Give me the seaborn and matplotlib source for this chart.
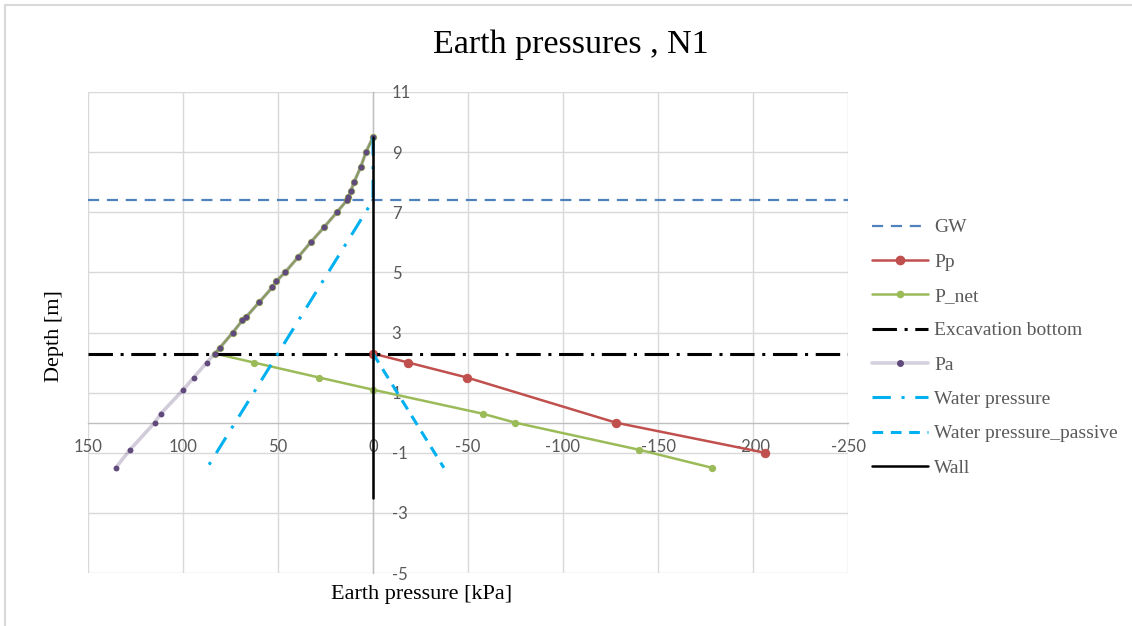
import matplotlib

matplotlib.use("Agg")

import matplotlib.pyplot as plt  # noqa: E402
import pandas as pd  # noqa: E402
import seaborn as sns  # noqa: E402
from matplotlib.lines import Line2D  # noqa: E402
from matplotlib.patches import Rectangle  # noqa: E402

# --- data (depth in m, pressure in kPa) ---
gw_level = 7.4
excavation_level = 2.3

pa_depth = [9.5, 9.0, 8.5, 8.0, 7.7, 7.5, 7.4, 7.0, 6.5, 6.0, 5.5, 5.0, 4.7, 4.5,
            4.0, 3.5, 3.4, 3.0, 2.5, 2.3, 2.0, 1.5, 1.1, 0.3, 0.0, -0.9, -1.5]
pa_value = [0.0, 3.7, 6.5, 10.0, 11.7, 13.0, 13.7, 19.0, 25.8, 32.8, 39.5, 46.3, 51.0, 53.0,
            60.0, 67.0, 68.8, 73.8, 80.5, 83.3, 87.5, 94.4, 99.8, 111.7, 114.9, 127.9, 135.4]

pnet_depth = pa_depth
pnet_value = [0.0, 3.7, 6.5, 10.0, 11.7, 13.0, 13.7, 19.0, 25.8, 32.8, 39.5, 46.3, 51.0, 53.0,
              60.0, 67.0, 68.8, 73.8, 80.5, 83.3, 62.6, 28.2, 0.2, -57.7, -74.9, -140.0, -178.4]

pp_depth = [2.3, 2.0, 1.5, 0.0, -1.0]
pp_value = [0.0, -18.6, -49.6, -127.9, -206.3]

water_depth = [9.5, 7.4, -1.5]
water_value = [0.0, 0.0, 87.3]

water_p_depth = [2.3, -1.5]
water_p_value = [0.0, -37.3]

wall_depth = [9.5, -2.5]
wall_value = [0.0, 0.0]

x_ticks = [150, 100, 50, 0, -50, -100, -150, -200, -250]
y_ticks = [11, 9, 7, 5, 3, 1, -1, -3, -5]

# --- colours ---
c_gw = "#4F81BD"
c_pp = "#C0504D"
c_net = "#9BBB59"
c_pa = "#604A7B"
c_water = "#00B0F0"
grey_txt = "#595959"

sns.set_style("white")
serif = ["Liberation Serif", "DejaVu Serif"]
plt.rcParams["font.family"] = ["Lato", "DejaVu Sans"]
plt.rcParams["axes.unicode_minus"] = False

W, H = 1132, 626
fig = plt.figure(figsize=(W / 100, H / 100), dpi=100)
ax = fig.add_axes([88 / W, 1 - 573 / H, (848 - 88) / W, (573 - 92) / H])


def frame(depth, value):
    return pd.DataFrame({"p": value, "z": depth})


ls_exc = (0, (8, 2.5, 1, 2.5))
ls_water = (0, (6, 3.5, 1, 3.5))
ls_water_p = (0, (3.5, 2.5))
ls_gw = (0, (5, 3.5))

ax.axhline(gw_level, color=c_gw, lw=1.6, ls=ls_gw, zorder=3)
sns.lineplot(data=frame(pp_depth, pp_value), x="p", y="z", sort=False, estimator=None,
             color=c_pp, lw=1.8, marker="o", ms=6, mec=c_pp, ax=ax, zorder=4)
sns.lineplot(data=frame(pnet_depth, pnet_value), x="p", y="z", sort=False, estimator=None,
             color=c_net, lw=1.8, marker="o", ms=4.5, mec=c_net, ax=ax, zorder=5)
ax.axhline(excavation_level, color="black", lw=2.2, ls=ls_exc, zorder=6)
sns.lineplot(data=frame(pa_depth, pa_value), x="p", y="z", sort=False, estimator=None,
             color=c_pa, alpha=0.28, lw=2.6, ax=ax, zorder=7)
sns.scatterplot(data=frame(pa_depth, pa_value), x="p", y="z", color=c_pa, s=18,
                edgecolor=c_pa, linewidth=0, ax=ax, zorder=8)
sns.lineplot(data=frame(water_depth, water_value), x="p", y="z", sort=False, estimator=None,
             color=c_water, lw=2.2, ls=ls_water, ax=ax, zorder=9)
sns.lineplot(data=frame(water_p_depth, water_p_value), x="p", y="z", sort=False,
             estimator=None, color=c_water, lw=2.2, ls=ls_water_p, ax=ax, zorder=9)
sns.lineplot(data=frame(wall_depth, wall_value), x="p", y="z", sort=False, estimator=None,
             color="black", lw=1.8, ax=ax, zorder=10)

# axes: reversed x, axis lines crossing at the origin
ax.set_xlim(150, -250)
ax.set_ylim(-5, 11)
ax.set_xticks(x_ticks)
ax.set_yticks(y_ticks)
ax.grid(True, color="#d9d9d9", lw=1.0, zorder=0)
ax.set_axisbelow(True)
ax.set_xlabel("")
ax.set_ylabel("")
for side in ["top", "left"]:
    ax.spines[side].set_visible(False)
ax.spines["bottom"].set_position(("data", 0))
ax.spines["right"].set_position(("data", 0))
for side in ["bottom", "right"]:
    ax.spines[side].set_color("#bfbfbf")
    ax.spines[side].set_linewidth(1.0)
ax.yaxis.tick_right()
ax.tick_params(axis="x", length=0, pad=12, labelsize=12, labelcolor=grey_txt)
ax.tick_params(axis="y", length=0, pad=13.5, labelsize=12, labelcolor=grey_txt)
for lbl in ax.get_yticklabels():
    lbl.set_horizontalalignment("left")

fig.text(571 / W, 1 - 45 / H, "Earth pressures , N1", family=serif, fontsize=24.5,
         ha="center", va="center", color="black")
fig.text(422 / W, 1 - 594 / H, "Earth pressure [kPa]", family=serif, fontsize=16,
         ha="center", va="center", color="black")
fig.text(55 / W, 1 - 336 / H, "Depth [m]", family=serif, fontsize=16, rotation=90,
         ha="center", va="center", color="black")

handles = [
    Line2D([], [], color=c_gw, lw=1.6, ls=ls_gw),
    Line2D([], [], color=c_pp, lw=1.8, marker="o", ms=6),
    Line2D([], [], color=c_net, lw=1.8, marker="o", ms=4.5),
    Line2D([], [], color="black", lw=2.2, ls=ls_exc),
    Line2D([], [], color="#D6D0DE", lw=2.6, marker="o", ms=4, mfc=c_pa, mec=c_pa),
    Line2D([], [], color=c_water, lw=2.2, ls=ls_water),
    Line2D([], [], color=c_water, lw=2.2, ls=ls_water_p),
    Line2D([], [], color="black", lw=1.8),
]
labels = ["GW", "Pp", "P_net", "Excavation bottom", "Pa", "Water pressure",
          "Water pressure_passive", "Wall"]
leg = fig.legend(handles, labels, loc="upper left", bbox_to_anchor=(864 / W, 1 - 211 / H),
                 frameon=False, prop={"family": serif, "size": 14}, handlelength=2.9,
                 handletextpad=0.3, labelspacing=0.86, borderaxespad=0)
for t in leg.get_texts():
    t.set_color(grey_txt)

fig.add_artist(Rectangle((5 / W, -0.05), 1.1, 1.05 - 5 / H, transform=fig.transFigure,
                         fill=False, edgecolor="#d9d9d9", lw=1.5))

fig.savefig("out.png", dpi=100)
plt.close(fig)
